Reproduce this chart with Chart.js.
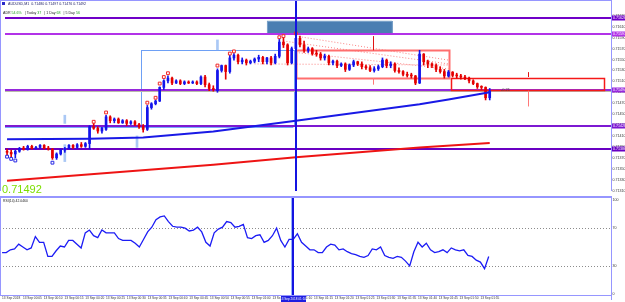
<!DOCTYPE html>
<html>
<head>
<meta charset="utf-8">
<script src="https://cdn.jsdelivr.net/npm/chart.js@4.4.1/dist/chart.umd.min.js"></script>
<style>
  html, body { margin: 0; padding: 0; background: #fff; }
  #wrap { position: relative; width: 625px; height: 302px; overflow: hidden; background: #fff; }
  #price { position: absolute; left: 0; top: 0; }
  #rsi { position: absolute; left: 0; top: 196px; }
</style>
</head>
<body>
<div id="wrap">
  <canvas id="price" width="625" height="196"></canvas>
  <canvas id="rsi" width="625" height="106"></canvas>
</div>
<script>
// AUDUSD M1 candles
const barOpen = [
  0.71382, 0.71380, 0.71377, 0.71382, 0.71387, 0.71386, 0.71391, 0.71387, 0.71389, 0.71393,
  0.71387, 0.71386, 0.71370, 0.71377, 0.71384, 0.71387, 0.71393, 0.71389, 0.71394, 0.71391,
  0.71396, 0.71427, 0.71424, 0.71419, 0.71422, 0.71445, 0.71438, 0.71441, 0.71434, 0.71438,
  0.71433, 0.71436, 0.71431, 0.71427, 0.71422, 0.71462, 0.71469, 0.71474, 0.71499, 0.71511,
  0.71516, 0.71507, 0.71511, 0.71506, 0.71509, 0.71507, 0.71509, 0.71506, 0.71518, 0.71504,
  0.71497, 0.71493, 0.71530, 0.71539, 0.71528, 0.71553, 0.71558, 0.71546, 0.71549, 0.71544,
  0.71547, 0.71551, 0.71554, 0.71546, 0.71553, 0.71544, 0.71556, 0.71582, 0.71577, 0.71544,
  0.71570, 0.71589, 0.71577, 0.71567, 0.71570, 0.71561, 0.71560, 0.71553, 0.71556, 0.71544,
  0.71547, 0.71539, 0.71542, 0.71532, 0.71540, 0.71546, 0.71542, 0.71537, 0.71535, 0.71530,
  0.71533, 0.71537, 0.71549, 0.71539, 0.71542, 0.71530, 0.71528, 0.71523, 0.71521, 0.71520,
  0.71507, 0.71560, 0.71546, 0.71542, 0.71539, 0.71532, 0.71528, 0.71520, 0.71527, 0.71521,
  0.71520, 0.71518, 0.71516, 0.71511, 0.71506, 0.71500, 0.71499, 0.71480
];
const barHigh = [
  0.71386, 0.71384, 0.71384, 0.71389, 0.71391, 0.71393, 0.71393, 0.71391, 0.71394, 0.71394,
  0.71391, 0.71387, 0.71379, 0.71386, 0.71389, 0.71394, 0.71394, 0.71396, 0.71398, 0.71398,
  0.71429, 0.71433, 0.71427, 0.71426, 0.71448, 0.71447, 0.71443, 0.71443, 0.71440, 0.71440,
  0.71438, 0.71438, 0.71433, 0.71431, 0.71466, 0.71471, 0.71476, 0.71500, 0.71513, 0.71520,
  0.71518, 0.71513, 0.71513, 0.71511, 0.71511, 0.71511, 0.71511, 0.71520, 0.71521, 0.71507,
  0.71502, 0.71533, 0.71540, 0.71540, 0.71558, 0.71561, 0.71560, 0.71553, 0.71551, 0.71549,
  0.71553, 0.71558, 0.71556, 0.71554, 0.71556, 0.71560, 0.71587, 0.71589, 0.71579, 0.71573,
  0.71594, 0.71593, 0.71584, 0.71573, 0.71572, 0.71567, 0.71563, 0.71560, 0.71558, 0.71549,
  0.71549, 0.71544, 0.71544, 0.71542, 0.71549, 0.71547, 0.71546, 0.71540, 0.71539, 0.71537,
  0.71540, 0.71553, 0.71551, 0.71546, 0.71544, 0.71535, 0.71530, 0.71527, 0.71525, 0.71521,
  0.71567, 0.71561, 0.71549, 0.71544, 0.71542, 0.71537, 0.71532, 0.71530, 0.71528, 0.71525,
  0.71523, 0.71521, 0.71518, 0.71513, 0.71507, 0.71502, 0.71500, 0.71497
];
const barLow = [
  0.71375, 0.71372, 0.71370, 0.71380, 0.71384, 0.71384, 0.71386, 0.71386, 0.71387, 0.71386,
  0.71384, 0.71367, 0.71367, 0.71375, 0.71380, 0.71386, 0.71387, 0.71387, 0.71389, 0.71389,
  0.71386, 0.71422, 0.71415, 0.71415, 0.71420, 0.71434, 0.71434, 0.71433, 0.71433, 0.71429,
  0.71431, 0.71429, 0.71424, 0.71417, 0.71420, 0.71459, 0.71467, 0.71473, 0.71495, 0.71507,
  0.71504, 0.71506, 0.71504, 0.71504, 0.71506, 0.71506, 0.71504, 0.71504, 0.71500, 0.71493,
  0.71492, 0.71490, 0.71527, 0.71514, 0.71525, 0.71549, 0.71542, 0.71542, 0.71540, 0.71542,
  0.71544, 0.71546, 0.71542, 0.71542, 0.71540, 0.71542, 0.71553, 0.71572, 0.71540, 0.71542,
  0.71567, 0.71573, 0.71563, 0.71563, 0.71558, 0.71556, 0.71549, 0.71549, 0.71540, 0.71540,
  0.71535, 0.71537, 0.71528, 0.71530, 0.71537, 0.71539, 0.71533, 0.71532, 0.71528, 0.71527,
  0.71530, 0.71535, 0.71535, 0.71535, 0.71527, 0.71525, 0.71520, 0.71518, 0.71516, 0.71504,
  0.71506, 0.71540, 0.71535, 0.71535, 0.71528, 0.71525, 0.71516, 0.71518, 0.71518, 0.71516,
  0.71514, 0.71513, 0.71507, 0.71504, 0.71497, 0.71495, 0.71476, 0.71476
];
const barClose = [
  0.71380, 0.71377, 0.71382, 0.71387, 0.71386, 0.71391, 0.71387, 0.71389, 0.71393, 0.71387,
  0.71386, 0.71370, 0.71377, 0.71384, 0.71387, 0.71393, 0.71389, 0.71394, 0.71391, 0.71396,
  0.71427, 0.71424, 0.71419, 0.71424, 0.71445, 0.71438, 0.71441, 0.71434, 0.71438, 0.71433,
  0.71436, 0.71431, 0.71427, 0.71422, 0.71462, 0.71469, 0.71474, 0.71499, 0.71511, 0.71516,
  0.71507, 0.71511, 0.71506, 0.71509, 0.71507, 0.71509, 0.71506, 0.71518, 0.71504, 0.71497,
  0.71495, 0.71530, 0.71539, 0.71528, 0.71553, 0.71558, 0.71546, 0.71549, 0.71544, 0.71547,
  0.71551, 0.71554, 0.71546, 0.71553, 0.71544, 0.71556, 0.71582, 0.71577, 0.71544, 0.71570,
  0.71589, 0.71577, 0.71567, 0.71570, 0.71561, 0.71560, 0.71553, 0.71556, 0.71544, 0.71547,
  0.71539, 0.71542, 0.71532, 0.71540, 0.71546, 0.71542, 0.71537, 0.71535, 0.71530, 0.71533,
  0.71537, 0.71549, 0.71539, 0.71542, 0.71530, 0.71528, 0.71523, 0.71521, 0.71520, 0.71507,
  0.71560, 0.71546, 0.71542, 0.71539, 0.71532, 0.71528, 0.71520, 0.71527, 0.71521, 0.71520,
  0.71518, 0.71516, 0.71511, 0.71506, 0.71500, 0.71499, 0.71480, 0.71492
];

// RSI(14), one value per bar
const rsiValues = [
  44, 44, 47, 48, 53, 50, 47, 49, 61, 55,
  55, 40, 40, 46, 51, 50, 57, 57, 53, 49,
  65, 68, 62, 60, 68, 65, 65, 65, 59, 57,
  57, 57, 54, 50, 58, 66, 71, 79, 82, 83,
  77, 72, 71, 71, 70, 67, 68, 71, 66, 55,
  51, 65, 69, 71, 77, 76, 71, 72, 74, 60,
  59, 62, 63, 55, 57, 62, 70, 57, 50, 58,
  58, 64, 55, 51, 47, 47, 44, 44, 50, 53,
  52, 47, 48, 45, 43, 42, 40, 39, 41, 48,
  47, 50, 41, 39, 38, 40, 39, 35, 30, 45,
  55, 50, 54, 47, 44, 45, 47, 44, 49, 47,
  46, 47, 41, 40, 36, 34, 27, 40
];

// moving averages, read at a few bars
const maFastBars = [0, 20, 33, 50, 70, 100, 107, 117];
const maFastValues = [0.71404, 0.71405, 0.71407, 0.71418, 0.71438, 0.71468, 0.71477, 0.71490];
const maSlowBars = [0, 50, 70, 100, 117];
const maSlowValues = [0.71328, 0.71357, 0.71371, 0.71389, 0.71397];

// fractal boxes above highs / below lows
const fractalUpBars = [21, 24, 34, 36, 37, 38, 39, 51, 54, 55, 66, 67, 70];
const fractalUpPrices = [0.71436, 0.71453, 0.71471, 0.71480, 0.71506, 0.71518, 0.71525, 0.71539, 0.71561, 0.71565, 0.71591, 0.71593, 0.71598];
const fractalDownBars = [0, 1, 2, 11];
const fractalDownPrices = [0.71372, 0.71368, 0.71365, 0.71361];

// light blue signal marks
const signalBars = [14, 14, 31.5, 51];
const signalLow = [0.71433, 0.71363, 0.71389, 0.71568];
const signalHigh = [0.71448, 0.71394, 0.71410, 0.71586];

// horizontal levels and bid
const levelPrices = [0.71626, 0.71597, 0.71494, 0.71428, 0.71386];
const bidPrice = 0.71492;

// drawn objects, in bar / price units
const rangeBox = [32.4, 69.4, 0.71567, 0.71427];
const rangeFloor = [-0.5, 69.4, 0.71427];
const zoneBox = [63, 93.3, 0.71621, 0.71598];
const redBoxA = [70, 107, 0.71567, 0.71516];
const redBoxB = [107.5, 144.5, 0.71517, 0.71495];
const trendStart = [[67, 0.71584], [70, 0.71593], [70, 0.71563], [60, 0.71542]];
const trendEnd = [[107, 0.71542], [107, 0.71549], [107, 0.71533], [107, 0.71540]];
const redMarkBars = [88.7, 126.4];
const redMarkTop = [[0.71593, 0.71516], [0.71527, 0.71493]];
const redMarkBottom = [[0.71567, 0.71504], [0.71518, 0.71464]];
const cursorBar = 70;
const spreadNote = [119.7, 0.71495, '-0.21'];

// axis ticks
const priceTicks = [0.7163, 0.7161, 0.7159, 0.7157, 0.7155, 0.7153, 0.7151, 0.7149, 0.7147,
                    0.7145, 0.7143, 0.7141, 0.7139, 0.7137, 0.7135, 0.7133, 0.7131];
const rsiTicks = [100, 70, 30, 0];
const rsiLevels = [70, 30];
const timeTicks = ['13 Sep 2018', '13 Sep 00:05', '13 Sep 00:10', '13 Sep 00:15', '13 Sep 00:20',
  '13 Sep 00:25', '13 Sep 00:30', '13 Sep 00:35', '13 Sep 00:40', '13 Sep 00:45', '13 Sep 00:50',
  '13 Sep 00:55', '13 Sep 01:00', '13 Sep 01:05', '13 Sep 01:10', '13 Sep 01:15', '13 Sep 01:20',
  '13 Sep 01:25', '13 Sep 01:30', '13 Sep 01:35', '13 Sep 01:40', '13 Sep 01:45', '13 Sep 01:50',
  '13 Sep 01:55'];
const cursorTime = '13 Sep 2018 01:10';

// styles
const FRAME = 'rgb(150,150,255)';
const BULL = 'rgb(20,20,235)';
const BEAR = 'rgb(228,0,0)';
const FONT = '"Liberation Sans", Arial, sans-serif';
const levelColors = ['rgb(112,0,200)', 'rgb(178,50,232)', 'rgb(150,40,220)', 'rgb(125,25,210)', 'rgb(105,0,195)'];
const labelEvery = 5;
const X_MIN = -0.5, X_MAX = 146.4;

function px(chart, bar) { return chart.scales.x.getPixelForValue(bar); }
function py(chart, v) { return chart.scales.y.getPixelForValue(v); }

function tinyText(ctx, str, x, y, size, color, align) {
  ctx.font = size + 'px ' + FONT;
  ctx.fillStyle = color;
  ctx.textAlign = align || 'left';
  ctx.textBaseline = 'middle';
  ctx.fillText(str, x, y);
  return ctx.measureText(str).width;
}

function strokeRect(ctx, x0, y0, x1, y1, color, w) {
  ctx.strokeStyle = color;
  ctx.lineWidth = w;
  ctx.strokeRect(Math.round(x0) + 0.5, Math.round(y0) + 0.5, Math.round(x1 - x0), Math.round(y1 - y0));
}

const priceObjects = {
  id: 'priceObjects',
  beforeDatasetsDraw(chart) {
    const { ctx, chartArea: a } = chart;
    ctx.save();
    // range box + floor line
    strokeRect(ctx, px(chart, rangeBox[0]), py(chart, rangeBox[2]), px(chart, rangeBox[1]), py(chart, rangeBox[3]), 'rgb(110,160,245)', 1);
    ctx.fillStyle = 'rgb(120,170,250)';
    ctx.fillRect(px(chart, rangeFloor[0]), Math.round(py(chart, rangeFloor[2])), px(chart, rangeFloor[1]) - px(chart, rangeFloor[0]), 1);
    // filled zone
    const zx0 = px(chart, zoneBox[0]), zx1 = px(chart, zoneBox[1]);
    const zy0 = py(chart, zoneBox[2]), zy1 = py(chart, zoneBox[3]);
    ctx.fillStyle = 'rgb(74,126,178)';
    ctx.fillRect(zx0, zy0, zx1 - zx0, zy1 - zy0);
    strokeRect(ctx, zx0, zy0, zx1, zy1, 'rgb(120,160,200)', 1);
    // levels
    levelPrices.forEach((p, k) => {
      const y = Math.round(py(chart, p));
      ctx.fillStyle = levelColors[k];
      ctx.fillRect(a.left, y - 1, a.right - a.left, 2);
    });
    ctx.fillStyle = 'rgb(185,185,170)';
    ctx.fillRect(a.left, Math.round(py(chart, bidPrice)), a.right - a.left, 1);
    // red boxes
    strokeRect(ctx, px(chart, redBoxA[0]), py(chart, redBoxA[2]), px(chart, redBoxA[1]), py(chart, redBoxA[3]), 'rgb(255,110,110)', 2);
    strokeRect(ctx, px(chart, redBoxB[0]), py(chart, redBoxB[2]), px(chart, redBoxB[1]), py(chart, redBoxB[3]), 'rgb(245,25,25)', 1.5);
    // dotted trend lines
    ctx.setLineDash([1, 2]);
    ctx.strokeStyle = 'rgba(250,110,110,0.85)';
    ctx.lineWidth = 1;
    trendStart.forEach((s, k) => {
      const e = trendEnd[k];
      ctx.beginPath();
      ctx.moveTo(px(chart, s[0]), py(chart, s[1]));
      ctx.lineTo(px(chart, e[0]), py(chart, e[1]));
      ctx.stroke();
    });
    ctx.setLineDash([]);
    // red vertical marks
    redMarkBars.forEach((b, k) => {
      const x = Math.round(px(chart, b)) + 0.5;
      ctx.lineWidth = 1;
      ctx.strokeStyle = 'rgb(225,20,20)';
      ctx.beginPath();
      ctx.moveTo(x, py(chart, redMarkTop[k][0]));
      ctx.lineTo(x, py(chart, redMarkBottom[k][0]));
      ctx.stroke();
      ctx.strokeStyle = 'rgb(255,120,120)';
      ctx.beginPath();
      ctx.moveTo(x, py(chart, redMarkTop[k][1]));
      ctx.lineTo(x, py(chart, redMarkBottom[k][1]));
      ctx.stroke();
    });
    ctx.restore();
  },
  afterDatasetsDraw(chart) {
    const { ctx, chartArea: a } = chart;
    ctx.save();
    ctx.fillStyle = 'rgb(20,20,225)';
    ctx.fillRect(Math.round(px(chart, cursorBar)) - 1, 0, 2, a.bottom);
    tinyText(ctx, spreadNote[2], px(chart, spreadNote[0]), py(chart, spreadNote[1]), 4, '#444');
    ctx.restore();
  },
  afterDraw(chart) {
    const { ctx, chartArea: a } = chart;
    ctx.save();
    // frame
    ctx.fillStyle = FRAME;
    ctx.fillRect(0, 0, a.right + 1, 1);
    ctx.fillRect(0, 0, 1, a.bottom);
    ctx.fillRect(a.right, 0, 1, a.bottom);
    // level price tags on the axis
    levelPrices.forEach((p, k) => {
      const y = Math.round(py(chart, p));
      ctx.fillStyle = levelColors[k];
      ctx.fillRect(a.right + 1, y - 2.5, 625 - a.right, 5);
      tinyText(ctx, p.toFixed(5), a.right + 2, y, 3.6, '#fff');
    });
    // header
    ctx.fillStyle = 'rgb(40,40,200)';
    ctx.fillRect(2, 2, 3, 3);
    tinyText(ctx, 'AUDUSD,M1  0.71480 0.71497 0.71476 0.71492', 8, 4, 3.6, '#1a1a60');
    let x = 3;
    const parts = [['ADR ', '#222'], ['54.6%', '#22a022'], ['   | Today ', '#222'], ['37', '#22a022'],
                   ['   | 1 Day ', '#222'], ['68', '#22a022'], ['   | 5 Day ', '#222'], ['56', '#22a022']];
    parts.forEach(([s, c]) => { x += tinyText(ctx, s, x, 12.5, 3.6, c); });
    // last price
    ctx.font = '11px ' + FONT;
    ctx.fillStyle = 'rgb(125,222,0)';
    ctx.textAlign = 'left';
    ctx.textBaseline = 'alphabetic';
    ctx.fillText(barClose[barClose.length - 1].toFixed(5), 2, 193);
    ctx.restore();
  }
};

const rsiObjects = {
  id: 'rsiObjects',
  beforeDatasetsDraw(chart) {
    const { ctx, chartArea: a } = chart;
    ctx.save();
    ctx.setLineDash([1, 2]);
    ctx.strokeStyle = 'rgb(140,140,140)';
    ctx.lineWidth = 1;
    rsiLevels.forEach(v => {
      const y = Math.round(py(chart, v)) + 0.5;
      ctx.beginPath();
      ctx.moveTo(a.left, y);
      ctx.lineTo(a.right, y);
      ctx.stroke();
    });
    ctx.setLineDash([]);
    ctx.fillStyle = 'rgb(150,180,250)';
    ctx.fillRect(Math.round(px(chart, rangeBox[1])), a.top, 1, a.bottom - a.top);
    ctx.restore();
  },
  afterDatasetsDraw(chart) {
    const { ctx, chartArea: a } = chart;
    ctx.save();
    ctx.fillStyle = 'rgb(20,20,225)';
    ctx.fillRect(Math.round(px(chart, cursorBar)) - 1, 0, 2, a.bottom + 1);
    ctx.restore();
  },
  afterDraw(chart) {
    const { ctx, chartArea: a } = chart;
    ctx.save();
    ctx.fillStyle = FRAME;
    ctx.fillRect(0, 0, a.right + 1, 2);
    ctx.fillRect(0, a.bottom - 1, a.right + 1, 1);
    ctx.fillRect(0, 0, 1, a.bottom);
    ctx.fillRect(a.right, 0, 1, 104);
    tinyText(ctx, 'RSI(14) 42.0460', 3, 5, 3.4, '#222');
    // cursor time tag
    const cx = Math.round(px(chart, cursorBar));
    ctx.fillStyle = 'rgb(30,30,225)';
    ctx.fillRect(cx - 12, a.bottom, 25, 6);
    tinyText(ctx, cursorTime, cx, a.bottom + 3, 3.1, '#fff', 'center');
    ctx.restore();
  }
};

const xAxis = { type: 'linear', min: X_MIN, max: X_MAX, offset: false };

new Chart(document.getElementById('price'), {
  type: 'bar',
  data: {
    datasets: [
      { type: 'line', data: maFastBars.map((b, i) => ({ x: b, y: maFastValues[i] })),
        borderColor: 'rgb(25,25,230)', borderWidth: 2, pointRadius: 0, tension: 0 },
      { type: 'line', data: maSlowBars.map((b, i) => ({ x: b, y: maSlowValues[i] })),
        borderColor: 'rgb(238,20,20)', borderWidth: 2, pointRadius: 0, tension: 0 },
      { type: 'line', showLine: false, data: fractalUpBars.map((b, i) => ({ x: b, y: fractalUpPrices[i] })),
        pointStyle: 'rect', pointRadius: 2, pointBorderWidth: 1,
        pointBorderColor: 'rgb(240,40,40)', pointBackgroundColor: 'rgba(255,255,255,0.9)' },
      { type: 'line', showLine: false, data: fractalDownBars.map((b, i) => ({ x: b, y: fractalDownPrices[i] })),
        pointStyle: 'rect', pointRadius: 2, pointBorderWidth: 1,
        pointBorderColor: 'rgb(40,40,230)', pointBackgroundColor: 'rgba(255,255,255,0.9)' },
      { data: barOpen.map((o, i) => ({ x: i, y: [o, barClose[i]] })),
        backgroundColor: barClose.map((c, i) => c >= barOpen[i] ? BULL : BEAR),
        barThickness: 2, grouped: false, minBarLength: 1, borderWidth: 0 },
      { data: barLow.map((l, i) => ({ x: i, y: [l, barHigh[i]] })),
        backgroundColor: barClose.map((c, i) => c >= barOpen[i] ? BULL : BEAR),
        barThickness: 1, grouped: false, borderWidth: 0 },
      { data: signalBars.map((b, i) => ({ x: b, y: [signalLow[i], signalHigh[i]] })),
        backgroundColor: 'rgb(170,200,245)', barThickness: 2, grouped: false, borderWidth: 0 }
    ]
  },
  options: {
    responsive: false,
    animation: false,
    layout: { padding: 0 },
    plugins: { legend: { display: false }, tooltip: { enabled: false } },
    scales: {
      x: Object.assign({ display: false }, xAxis),
      y: {
        position: 'right',
        min: 0.713091,
        max: 0.7165,
        grid: { display: false, drawTicks: false },
        border: { display: false },
        afterBuildTicks: s => { s.ticks = priceTicks.map(v => ({ value: v })); },
        afterFit: s => { s.width = 14; s.paddingTop = 0; s.paddingBottom = 0; },
        ticks: { autoSkip: false, padding: 1.5, color: '#333', font: { size: 3.6, family: FONT },
                 callback: v => v.toFixed(5) }
      }
    }
  },
  plugins: [priceObjects]
});

new Chart(document.getElementById('rsi'), {
  type: 'line',
  data: {
    datasets: [{
      data: rsiValues.map((v, i) => ({ x: i, y: v })),
      borderColor: 'rgb(28,28,245)', borderWidth: 1.3, pointRadius: 0, tension: 0
    }]
  },
  options: {
    responsive: false,
    animation: false,
    layout: { padding: { top: 2, left: 0, right: 0, bottom: 0 } },
    plugins: { legend: { display: false }, tooltip: { enabled: false } },
    scales: {
      x: Object.assign({
        grid: { display: false, drawTicks: false },
        border: { display: false },
        afterBuildTicks: s => { s.ticks = timeTicks.map((t, k) => ({ value: k * labelEvery })); },
        afterFit: s => { s.height = 6; s.paddingLeft = 0; s.paddingRight = 0; },
        ticks: { autoSkip: false, maxRotation: 0, align: 'start', padding: 0.5, color: '#333',
                 font: { size: 3.2, family: FONT }, callback: (v, k) => timeTicks[k] }
      }, xAxis),
      y: {
        position: 'right',
        min: -2,
        max: 102,
        grid: { display: false, drawTicks: false },
        border: { display: false },
        afterBuildTicks: s => { s.ticks = rsiTicks.map(v => ({ value: v })); },
        afterFit: s => { s.width = 14; s.paddingTop = 0; s.paddingBottom = 0; },
        ticks: { autoSkip: false, padding: 1.5, color: '#333', font: { size: 3.6, family: FONT } }
      }
    }
  },
  plugins: [rsiObjects]
});
</script>
</body>
</html>
